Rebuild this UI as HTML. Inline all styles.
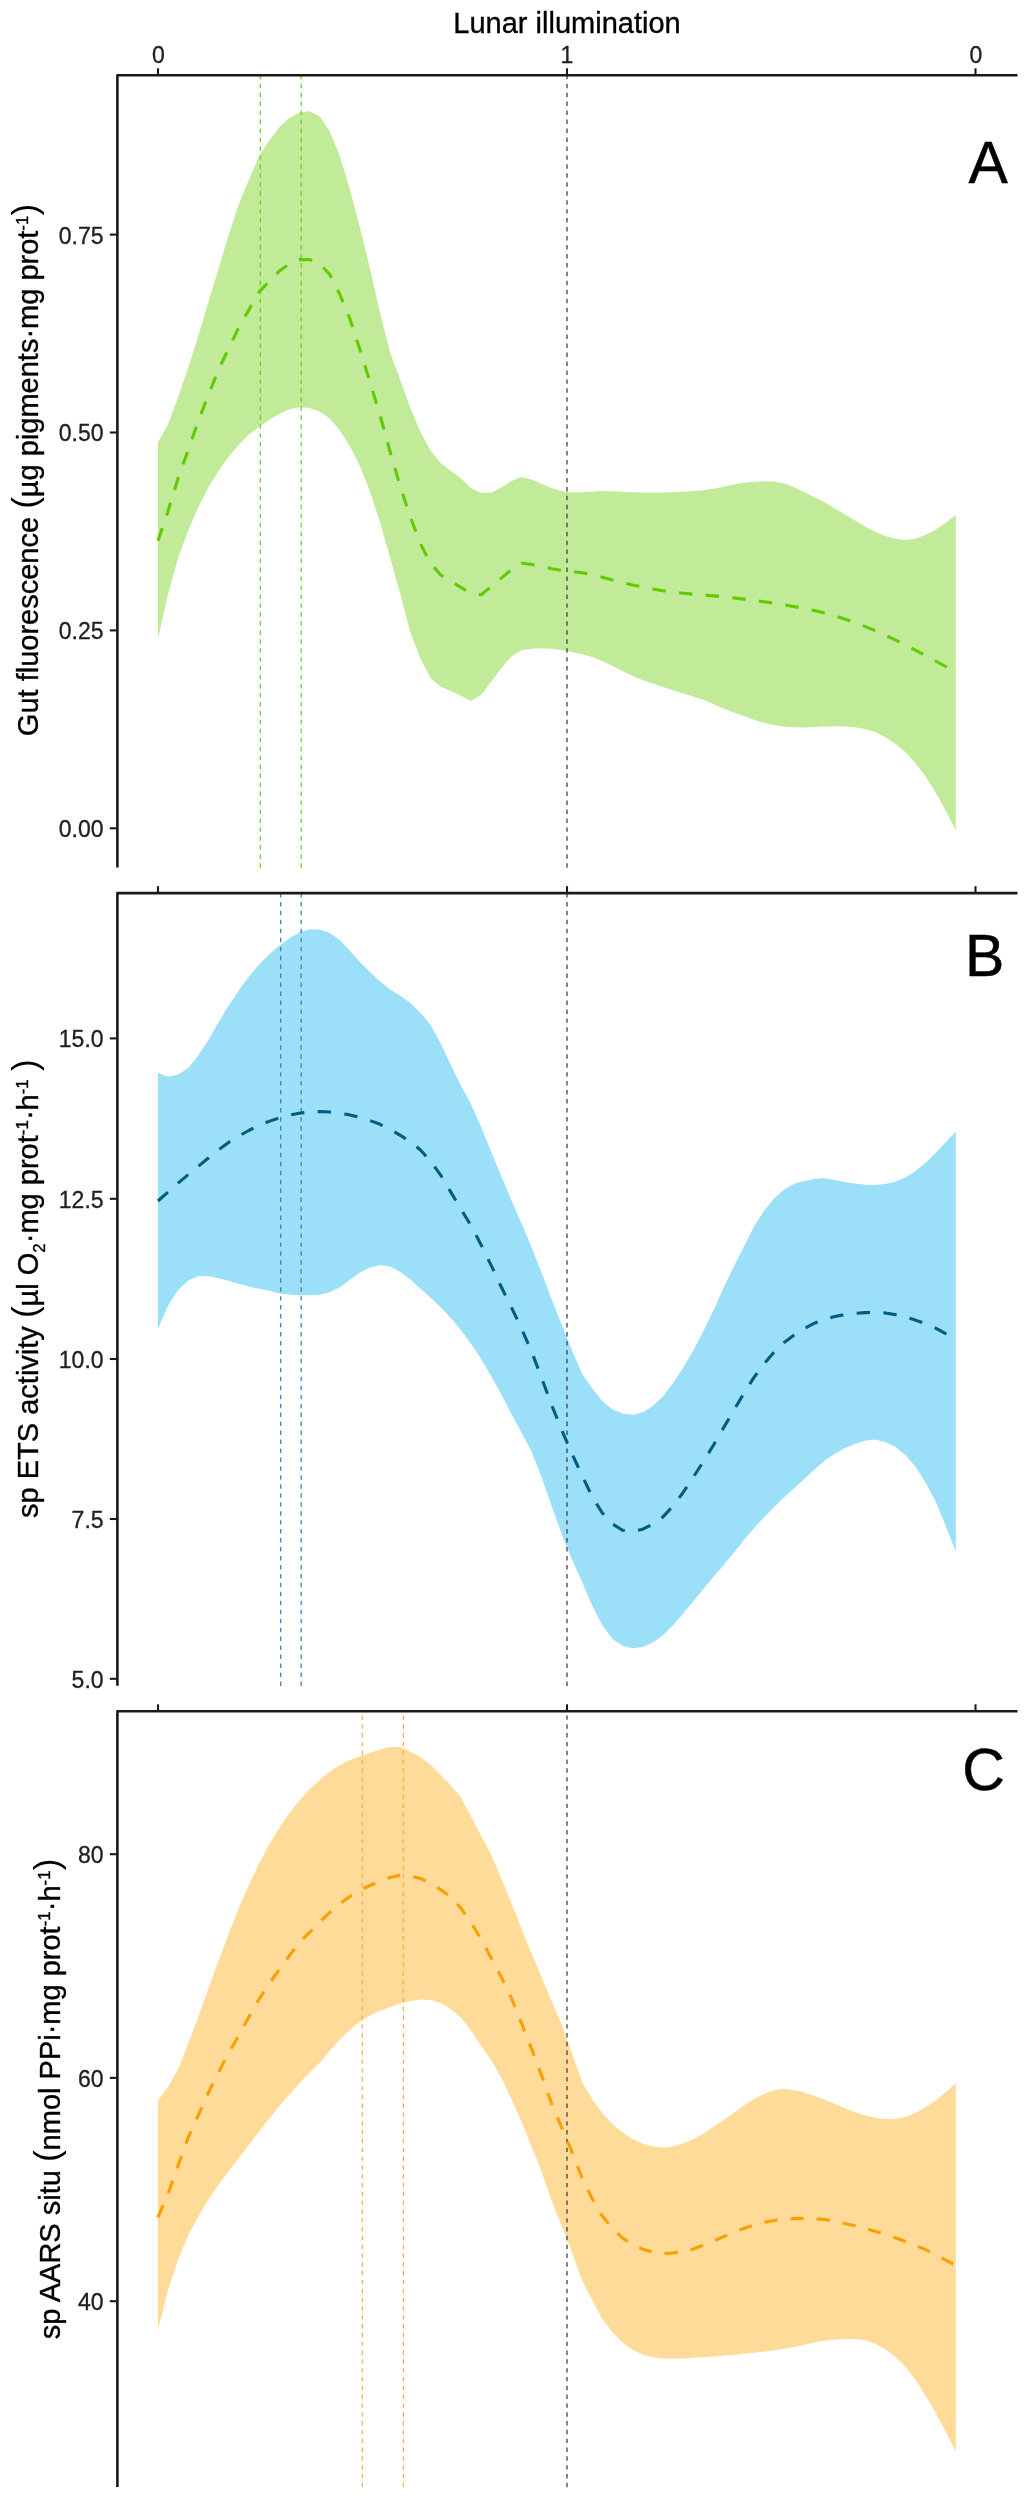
<!DOCTYPE html>
<html lang="en"><head><meta charset="utf-8"><title>Lunar illumination</title>
<style>html,body{margin:0;padding:0;background:#fff}svg{display:block;will-change:transform}text{fill:#202020;stroke:#202020;stroke-width:.3px}</style></head><body>
<svg width="1030" height="2500" viewBox="0 0 1030 2500" font-family="'Liberation Sans', Arial, Helvetica, sans-serif">
<rect width="1030" height="2500" fill="#fff"/>
<text x="567" y="32.6" font-size="29" text-anchor="middle" style="fill:#000;stroke:#000;stroke-width:.35px">Lunar illumination</text>
<text x="158.3" y="63.2" font-size="23" text-anchor="middle">0</text>
<text x="567" y="63.2" font-size="23" text-anchor="middle">1</text>
<text x="975.9" y="63.2" font-size="23" text-anchor="middle">0</text>
<g>
<path d="M157.9 442.4L168 424.2L178.1 397L188.2 368.1L198.3 336.1L208.4 302.1L218.5 268.8L228.6 234.9L238.7 204.5L248.8 180L258.9 156.4L269 140.7L279.1 127.6L289.2 118L299.3 112.4L309.4 111.3L319.5 116.2L329.6 131.1L339.7 155.5L349.8 189.3L359.9 227.5L370 268.8L380.1 313L390.2 352.7L400.3 380L410.4 408L420.5 432L430.6 450.7L440.7 463.1L450.8 470.9L460.9 478.2L471 488L481.1 493.1L491.2 492.6L501.3 487.5L511.4 481L521.5 477.1L531.6 479.4L541.7 483.7L551.8 487.9L561.9 491.3L572 492.6L582.1 492.2L592.2 491.5L602.3 491.1L612.4 491.3L622.5 491.8L632.6 492.2L642.7 492.4L652.8 492.6L662.9 492.5L673 492.2L683.1 491.8L693.2 491.1L703.3 490.2L713.4 488.8L723.5 486.7L733.6 484.4L743.7 482.8L753.8 481.7L763.9 481.2L774 481.6L784.1 483.6L794.2 487.3L804.3 492.2L814.4 497L824.5 502.3L834.6 508.3L844.7 514.5L854.8 520.6L864.9 526.4L875 531.8L885.1 536.1L895.2 538.8L905.3 540L915.4 538.8L925.5 535.1L935.6 529.7L945.7 522.7L955.8 515L955.8 830.3L945.7 810.7L935.6 792.3L925.5 776.5L915.4 763.1L905.3 752.1L895.2 743.7L885.1 737.1L875 732.1L864.9 729L854.8 727.3L844.7 726.5L834.6 726.2L824.5 726.4L814.4 727L804.3 727.4L794.2 727.3L784.1 726.5L774 725.1L763.9 722.8L753.8 719.7L743.7 716.1L733.6 712.4L723.5 708.5L713.4 704L703.3 699.7L693.2 696.4L683.1 693.4L673 690.3L662.9 687L652.8 683.7L642.7 680.1L632.6 675.9L622.5 670.9L612.4 666L602.3 661L592.2 657L582.1 654.2L572 652L561.9 650.1L551.8 648.7L541.7 648.3L531.6 648.7L521.5 650.3L511.4 656.5L501.3 668.2L491.2 681.7L481.1 695L471 701.1L460.9 695.8L450.8 691L440.7 686.8L430.6 678.3L420.5 658.8L410.4 632.4L400.3 594L390.2 558L380.1 522.5L370 491.5L359.9 466L349.8 446.1L339.7 430.3L329.6 418.2L319.5 411.4L309.4 408L299.3 407.3L289.2 409.2L279.1 414.1L269 419.9L258.9 427L248.8 434.5L238.7 445L228.6 456.8L218.5 470.9L208.4 487.4L198.3 507.3L188.2 530.6L178.1 557.8L168 594.2L157.9 639.1Z" fill="#C2EB99"/>
<line x1="260.3" y1="867.7" x2="260.3" y2="75.2" stroke="#6CCB1F" stroke-width="1.25" stroke-dasharray="4.48 4.48"/>
<line x1="301.2" y1="867.7" x2="301.2" y2="75.2" stroke="#6CCB1F" stroke-width="1.25" stroke-dasharray="4.48 4.48"/>
<line x1="567" y1="867.7" x2="567" y2="75.2" stroke="#3c3c3c" stroke-width="1.25" stroke-dasharray="4.48 4.48"/>
<path d="M157.9 540.8L168 511.2L178.1 478.3L188.2 450.1L198.3 420.8L208.4 395L218.5 369.6L228.6 348.7L238.7 327.6L248.8 309.9L258.9 292.1L269 281.7L279.1 271.3L289.2 264L299.3 259.6L309.4 259.6L319.5 263.5L329.6 274.2L339.7 294.1L349.8 318.6L359.9 349.4L370 382.2L380.1 415.5L390.2 452L400.3 486.5L410.4 517.2L420.5 544L430.6 563.3L440.7 575L450.8 581.2L460.9 587.4L471 593.3L481.1 594.7L491.2 586.6L501.3 578.1L511.4 569.5L521.5 563.3L531.6 564.4L541.7 566.3L551.8 568.8L561.9 570.4L572 571.5L582.1 572.7L592.2 574.6L602.3 577.2L612.4 579.9L622.5 582.5L632.6 584.9L642.7 587L652.8 589L662.9 590.7L673 592.1L683.1 593.2L693.2 594.2L703.3 595.1L713.4 595.9L723.5 596.8L733.6 597.9L743.7 599.1L753.8 600.4L763.9 601.8L774 603.2L784.1 604.8L794.2 606.6L804.3 608.4L814.4 610.5L824.5 612.9L834.6 615.7L844.7 619L854.8 622.5L864.9 626.4L875 630.6L885.1 635.2L895.2 639.9L905.3 644.8L915.4 650.1L925.5 655.6L935.6 661L945.7 666.5L955.8 672" fill="none" stroke="#62CA00" stroke-width="3.1" stroke-linejoin="round" stroke-dasharray="13.385 13.385"/>
<path d="M117.4 867.5V75.2H1017.5" fill="none" stroke="#1a1a1a" stroke-width="2.6" stroke-linejoin="round"/>
<line x1="158" y1="75.2" x2="158" y2="68.3" stroke="#1a1a1a" stroke-width="2.1"/>
<line x1="567" y1="75.2" x2="567" y2="68.3" stroke="#1a1a1a" stroke-width="2.1"/>
<line x1="975.5" y1="75.2" x2="975.5" y2="68.3" stroke="#1a1a1a" stroke-width="2.1"/>
<line x1="117.4" y1="234.6" x2="109.8" y2="234.6" stroke="#1a1a1a" stroke-width="2.1"/>
<text x="103.6" y="243.5" font-size="23" text-anchor="end">0.75</text>
<line x1="117.4" y1="432.5" x2="109.8" y2="432.5" stroke="#1a1a1a" stroke-width="2.1"/>
<text x="103.6" y="441.4" font-size="23" text-anchor="end">0.50</text>
<line x1="117.4" y1="630.4" x2="109.8" y2="630.4" stroke="#1a1a1a" stroke-width="2.1"/>
<text x="103.6" y="639.3" font-size="23" text-anchor="end">0.25</text>
<line x1="117.4" y1="828.3" x2="109.8" y2="828.3" stroke="#1a1a1a" stroke-width="2.1"/>
<text x="103.6" y="837.2" font-size="23" text-anchor="end">0.00</text>
<text x="968.4" y="182.8" font-size="59" style="fill:#000;stroke:#000;stroke-width:.5px">A</text>
</g>
<g>
<path d="M157.9 1072.8L168 1076.7L178.1 1074.6L188.2 1068.1L198.3 1055.5L208.4 1039.9L218.5 1022.3L228.6 1005.8L238.7 990.5L248.8 976.8L258.9 964.8L269 954.4L279.1 945.9L289.2 938.4L299.3 932.4L309.4 929.3L319.5 929.4L329.6 933.1L339.7 939.9L349.8 950.7L359.9 962.1L370 972.1L380.1 981.4L390.2 989.4L400.3 995.8L410.4 1003.1L420.5 1012.7L430.6 1025.1L440.7 1043.6L450.8 1064.9L460.9 1085.4L471 1104.1L481.1 1127.1L491.2 1151.8L501.3 1176.2L511.4 1200.2L521.5 1223.5L531.6 1247.3L541.7 1273L551.8 1299.7L561.9 1325L572 1350.3L582.1 1373.7L592.2 1388.2L602.3 1400.9L612.4 1409.3L622.5 1413.6L632.6 1414.8L642.7 1412.3L652.8 1406L662.9 1396.4L673 1383.1L683.1 1368L693.2 1350.7L703.3 1331.2L713.4 1310.6L723.5 1288L733.6 1266.9L743.7 1246.9L753.8 1226.9L763.9 1210.9L774 1198.4L784.1 1189.5L794.2 1183.8L804.3 1181.1L814.4 1179.1L824.5 1178.2L834.6 1180.1L844.7 1181.9L854.8 1183.6L864.9 1184.7L875 1184.9L885.1 1184.1L895.2 1181.8L905.3 1177.6L915.4 1171.2L925.5 1163L935.6 1153L945.7 1142.3L955.8 1131.4L955.8 1551.8L945.7 1525.7L935.6 1501.3L925.5 1482.4L915.4 1466.6L905.3 1455L895.2 1446.4L885.1 1441.9L875 1439.6L864.9 1440.8L854.8 1443.9L844.7 1448.3L834.6 1453.9L824.5 1460.8L814.4 1469.5L804.3 1479L794.2 1488.2L784.1 1497.3L774 1507L763.9 1517.4L753.8 1528.4L743.7 1540.3L733.6 1552.9L723.5 1565.2L713.4 1577L703.3 1588.9L693.2 1601.6L683.1 1613.8L673 1625.2L662.9 1635.2L652.8 1642.6L642.7 1647.1L632.6 1648.2L622.5 1645.8L612.4 1638.9L602.3 1625.3L592.2 1605.4L582.1 1582.1L572 1559.4L561.9 1534.4L551.8 1506.4L541.7 1477.5L531.6 1451.8L521.5 1432.5L511.4 1414L501.3 1394.3L491.2 1376L481.1 1359L471 1343.7L460.9 1330.1L450.8 1318L440.7 1307.3L430.6 1297.7L420.5 1288.7L410.4 1279.6L400.3 1272.1L390.2 1266.5L380.1 1264.9L370 1267.5L359.9 1272.6L349.8 1279.8L339.7 1287.6L329.6 1292.3L319.5 1294.7L309.4 1295.3L299.3 1295.2L289.2 1294.5L279.1 1293.5L269 1290.6L258.9 1288.8L248.8 1286.5L238.7 1283.8L228.6 1280.8L218.5 1278.2L208.4 1276.3L198.3 1276.2L188.2 1280.5L178.1 1290.1L168 1305.8L157.9 1329.1Z" fill="#9BE0F8"/>
<line x1="280.7" y1="1685.9" x2="280.7" y2="893.1" stroke="#3882AB" stroke-width="1.25" stroke-dasharray="4.48 4.48"/>
<line x1="301.2" y1="1685.9" x2="301.2" y2="893.1" stroke="#3882AB" stroke-width="1.25" stroke-dasharray="4.48 4.48"/>
<line x1="567" y1="1685.9" x2="567" y2="893.1" stroke="#3c3c3c" stroke-width="1.25" stroke-dasharray="4.48 4.48"/>
<path d="M157.9 1201L168 1192.1L178.1 1183.2L188.2 1174.6L198.3 1166.3L208.4 1158L218.5 1149.9L228.6 1142.4L238.7 1136.1L248.8 1130.5L258.9 1125.5L269 1121.4L279.1 1118L289.2 1115.1L299.3 1113.2L309.4 1112L319.5 1111.5L329.6 1112L339.7 1113.2L349.8 1114.9L359.9 1117.4L370 1120.5L380.1 1124.3L390.2 1129.3L400.3 1135.3L410.4 1141.8L420.5 1150L430.6 1161.2L440.7 1175.1L450.8 1192.1L460.9 1209L471 1225.6L481.1 1244.7L491.2 1265.4L501.3 1287L511.4 1307.2L521.5 1328.5L531.6 1351.6L541.7 1378.2L551.8 1405.4L561.9 1430.5L572 1453.8L582.1 1475.5L592.2 1496.8L602.3 1513L612.4 1523.9L622.5 1530.2L632.6 1531.4L642.7 1529.2L652.8 1524.1L662.9 1516.9L673 1506.1L683.1 1492.5L693.2 1477.4L703.3 1461.6L713.4 1445.2L723.5 1427.9L733.6 1410.7L743.7 1393.7L753.8 1377.7L763.9 1363.9L774 1352.2L784.1 1342.5L794.2 1335L804.3 1328.5L814.4 1323.2L824.5 1319.4L834.6 1316.6L844.7 1314.6L854.8 1313.4L864.9 1312.6L875 1312.5L885.1 1313L895.2 1314.6L905.3 1317L915.4 1320.1L925.5 1323.7L935.6 1328.2L945.7 1333.6L955.8 1338" fill="none" stroke="#005C82" stroke-width="3.1" stroke-linejoin="round" stroke-dasharray="13.385 13.385"/>
<path d="M117.4 1685.7V893.1H1017.5" fill="none" stroke="#1a1a1a" stroke-width="2.6" stroke-linejoin="round"/>
<line x1="158" y1="893.1" x2="158" y2="886.2" stroke="#1a1a1a" stroke-width="2.1"/>
<line x1="567" y1="893.1" x2="567" y2="886.2" stroke="#1a1a1a" stroke-width="2.1"/>
<line x1="975.5" y1="893.1" x2="975.5" y2="886.2" stroke="#1a1a1a" stroke-width="2.1"/>
<line x1="117.4" y1="1038.4" x2="109.8" y2="1038.4" stroke="#1a1a1a" stroke-width="2.1"/>
<text x="103.6" y="1047.3" font-size="23" text-anchor="end">15.0</text>
<line x1="117.4" y1="1198.8" x2="109.8" y2="1198.8" stroke="#1a1a1a" stroke-width="2.1"/>
<text x="103.6" y="1207.7" font-size="23" text-anchor="end">12.5</text>
<line x1="117.4" y1="1359" x2="109.8" y2="1359" stroke="#1a1a1a" stroke-width="2.1"/>
<text x="103.6" y="1367.9" font-size="23" text-anchor="end">10.0</text>
<line x1="117.4" y1="1519" x2="109.8" y2="1519" stroke="#1a1a1a" stroke-width="2.1"/>
<text x="103.6" y="1527.9" font-size="23" text-anchor="end">7.5</text>
<line x1="117.4" y1="1678.8" x2="109.8" y2="1678.8" stroke="#1a1a1a" stroke-width="2.1"/>
<text x="103.6" y="1687.7" font-size="23" text-anchor="end">5.0</text>
<text x="965" y="976.3" font-size="59" style="fill:#000;stroke:#000;stroke-width:.5px">B</text>
</g>
<g>
<path d="M157.9 2100.7L168 2087L178.1 2068.8L188.2 2044.1L198.3 2016.8L208.4 1988.8L218.5 1960.8L228.6 1934L238.7 1908.6L248.8 1885.2L258.9 1864.1L269 1845L279.1 1828.1L289.2 1813.4L299.3 1800.7L309.4 1789.6L319.5 1779.9L329.6 1771.8L339.7 1765.3L349.8 1760.3L359.9 1756.2L370 1752.8L380.1 1749.5L390.2 1746.9L400.3 1746.9L410.4 1751.7L420.5 1757.1L430.6 1764.9L440.7 1775L450.8 1785.4L460.9 1797.2L471 1816.4L481.1 1835.7L491.2 1854.8L501.3 1878.1L511.4 1903.1L521.5 1928.5L531.6 1953.4L541.7 1977.5L551.8 2001.5L561.9 2025.3L572 2053.6L582.1 2082.3L592.2 2099.3L602.3 2112.9L612.4 2123.9L622.5 2132.2L632.6 2138.9L642.7 2143.5L652.8 2146.4L662.9 2147.5L673 2146.5L683.1 2143.6L693.2 2139.2L703.3 2133.5L713.4 2127.1L723.5 2120L733.6 2112.9L743.7 2105.8L753.8 2099.3L763.9 2093.9L774 2090.2L784.1 2088.8L794.2 2089.9L804.3 2092.6L814.4 2096L824.5 2099.8L834.6 2103.7L844.7 2107.9L854.8 2112.1L864.9 2115.3L875 2117.7L885.1 2119.1L895.2 2119L905.3 2117L915.4 2112.9L925.5 2107.3L935.6 2100.6L945.7 2092.3L955.8 2083.2L955.8 2451.6L945.7 2431.4L935.6 2412.8L925.5 2395.5L915.4 2379.7L905.3 2366.5L895.2 2356.7L885.1 2349.1L875 2343.7L864.9 2340.3L854.8 2339L844.7 2339L834.6 2339.6L824.5 2340.7L814.4 2342.3L804.3 2344.7L794.2 2347.1L784.1 2348.8L774 2350.3L763.9 2351.5L753.8 2352.7L743.7 2353.7L733.6 2354.7L723.5 2355.7L713.4 2356.5L703.3 2357.2L693.2 2357.7L683.1 2358.5L673 2358.8L662.9 2358.6L652.8 2357.2L642.7 2354.5L632.6 2349.7L622.5 2342.6L612.4 2331.9L602.3 2319.2L592.2 2300.1L582.1 2280.3L572 2252.7L561.9 2226.3L551.8 2201.2L541.7 2172L531.6 2146.4L521.5 2121.8L511.4 2098.8L501.3 2077.7L491.2 2060.3L481.1 2045.5L471 2030.6L460.9 2017.6L450.8 2008.9L440.7 2003.1L430.6 1999.9L420.5 1999.5L410.4 2000.9L400.3 2003.5L390.2 2007L380.1 2010.7L370 2015.4L359.9 2021.4L349.8 2029.9L339.7 2039.8L329.6 2050.9L319.5 2062.9L309.4 2072.9L299.3 2083.6L289.2 2094.8L279.1 2106.5L269 2118.8L258.9 2131.7L248.8 2144.9L238.7 2158L228.6 2171.2L218.5 2184.8L208.4 2199.4L198.3 2216.4L188.2 2235.5L178.1 2259.4L168 2290.2L157.9 2329.9Z" fill="#FFDB99"/>
<line x1="362.3" y1="2487.2" x2="362.3" y2="1711.2" stroke="#F8B040" stroke-width="1.25" stroke-dasharray="4.41 4.41"/>
<line x1="403.4" y1="2487.2" x2="403.4" y2="1711.2" stroke="#F8B040" stroke-width="1.25" stroke-dasharray="4.41 4.41"/>
<line x1="567" y1="2487.2" x2="567" y2="1711.2" stroke="#3c3c3c" stroke-width="1.25" stroke-dasharray="4.41 4.41"/>
<path d="M157.9 2217.3L168 2193.9L178.1 2165.5L188.2 2137.4L198.3 2115.3L208.4 2092.8L218.5 2072.4L228.6 2053.1L238.7 2035.8L248.8 2017.1L258.9 1999.5L269 1983.8L279.1 1970L289.2 1956L299.3 1942.6L309.4 1932.7L319.5 1922.1L329.6 1912.7L339.7 1904L349.8 1896.5L359.9 1890.3L370 1885.5L380.1 1881.1L390.2 1877.4L400.3 1875.1L410.4 1875.9L420.5 1878.5L430.6 1883.3L440.7 1889.8L450.8 1896.9L460.9 1908.2L471 1922.6L481.1 1939.5L491.2 1957.9L501.3 1977.1L511.4 1998L521.5 2023.2L531.6 2048.9L541.7 2075.6L551.8 2104.1L561.9 2128L572 2151.9L582.1 2178L592.2 2198.6L602.3 2216.1L612.4 2228.3L622.5 2237.9L632.6 2244.6L642.7 2249.2L652.8 2252.2L662.9 2253.5L673 2253L683.1 2251.7L693.2 2249.1L703.3 2245.1L713.4 2240.9L723.5 2236.7L733.6 2232.5L743.7 2228.4L753.8 2225.2L763.9 2222.4L774 2220.4L784.1 2219.2L794.2 2218.6L804.3 2218.4L814.4 2218.7L824.5 2219.5L834.6 2221.2L844.7 2223.5L854.8 2225.8L864.9 2228.4L875 2231.2L885.1 2234.4L895.2 2237.8L905.3 2241.5L915.4 2245.3L925.5 2249.6L935.6 2254.6L945.7 2260.1L955.8 2265.5" fill="none" stroke="#FA9F00" stroke-width="3.1" stroke-linejoin="round" stroke-dasharray="13.15 13.15"/>
<path d="M117.4 2487V1711.2H1017.5" fill="none" stroke="#1a1a1a" stroke-width="2.6" stroke-linejoin="round"/>
<line x1="158" y1="1711.2" x2="158" y2="1704.3" stroke="#1a1a1a" stroke-width="2.1"/>
<line x1="567" y1="1711.2" x2="567" y2="1704.3" stroke="#1a1a1a" stroke-width="2.1"/>
<line x1="975.5" y1="1711.2" x2="975.5" y2="1704.3" stroke="#1a1a1a" stroke-width="2.1"/>
<line x1="117.4" y1="1854.2" x2="109.8" y2="1854.2" stroke="#1a1a1a" stroke-width="2.1"/>
<text x="103.6" y="1863.1" font-size="23" text-anchor="end">80</text>
<line x1="117.4" y1="2077.9" x2="109.8" y2="2077.9" stroke="#1a1a1a" stroke-width="2.1"/>
<text x="103.6" y="2086.8" font-size="23" text-anchor="end">60</text>
<line x1="117.4" y1="2301.2" x2="109.8" y2="2301.2" stroke="#1a1a1a" stroke-width="2.1"/>
<text x="103.6" y="2310.1" font-size="23" text-anchor="end">40</text>
<text x="962.3" y="1789.8" font-size="59" style="fill:#000;stroke:#000;stroke-width:.5px">C</text>
</g>
<text transform="translate(37.9 470) rotate(-90)" font-size="29" text-anchor="middle" style="fill:#000;stroke:#000;stroke-width:.35px">Gut fluorescence <tspan font-size="35" dy="-1" style="stroke:none">(</tspan><tspan dy="1">µg pigments·mg prot</tspan><tspan font-size="17" dy="-10">-1</tspan><tspan font-size="35" dy="9" style="stroke:none">)</tspan></text>
<text transform="translate(37.9 1288.7) rotate(-90)" font-size="29" text-anchor="middle" style="fill:#000;stroke:#000;stroke-width:.35px">sp ETS activity <tspan font-size="35" dy="-1" style="stroke:none">(</tspan><tspan dy="1">µl O</tspan><tspan font-size="17" dy="7">2</tspan><tspan dy="-7">·mg prot</tspan><tspan font-size="17" dy="-10">-1</tspan><tspan dy="10">·h</tspan><tspan font-size="17" dy="-10">-1</tspan><tspan dy="10"> </tspan><tspan font-size="35" dy="-1" style="stroke:none">)</tspan></text>
<text transform="translate(59.7 2099) rotate(-90)" font-size="29" text-anchor="middle" style="fill:#000;stroke:#000;stroke-width:.35px">sp AARS situ <tspan font-size="35" dy="-1" style="stroke:none">(</tspan><tspan dy="1">nmol PPi·mg prot</tspan><tspan font-size="17" dy="-10">-1</tspan><tspan dy="10">·h</tspan><tspan font-size="17" dy="-10">-1</tspan><tspan font-size="35" dy="9" style="stroke:none">)</tspan></text>
</svg></body></html>
